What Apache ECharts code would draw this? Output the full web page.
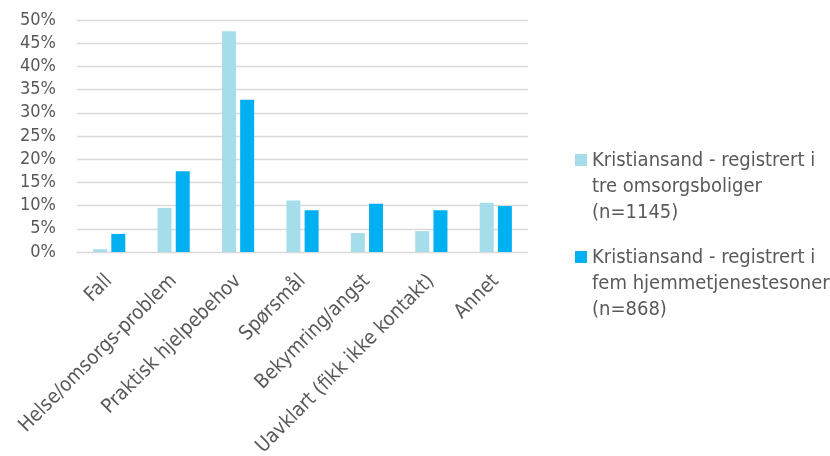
<!DOCTYPE html>
<html>
<head>
<meta charset="utf-8">
<script src="https://cdn.jsdelivr.net/npm/echarts@6/dist/echarts.min.js"></script>
<style>html,body{margin:0;padding:0;background:#fff}#c{width:830px;height:456px}</style>
</head>
<body>
<div id="c"></div>
<script>
var categories = ['Fall', 'Helse/omsorgs-problem', 'Praktisk hjelpebehov', 'Spørsmål', 'Bekymring/angst', 'Uavklart (fikk ikke kontakt)', 'Annet'];
var seriesNames = ['Kristiansand - registrert i tre omsorgsboliger (n=1145)', 'Kristiansand - registrert i fem hjemmetjenestesoner (n=868)'];
var legendLabels = ['Kristiansand - registrert i\ntre omsorgsboliger\n(n=1145)', 'Kristiansand - registrert i\nfem hjemmetjenestesoner\n(n=868)'];
var omsorgsboliger = [0.6, 9.5, 47.6, 11.1, 4.1, 4.5, 10.6];
var hjemmetjeneste = [3.9, 17.4, 32.8, 9.0, 10.4, 9.0, 9.9];

var font = '"DejaVu Sans Condensed", sans-serif';
var chart = echarts.init(document.getElementById('c'), null, {renderer: 'canvas'});
chart.setOption({
  animation: false,
  textStyle: {fontFamily: font},
  grid: {left: 77, right: 302, top: 20, bottom: 204, containLabel: false, outerBoundsMode: 'none'},
  legend: {
    orient: 'vertical',
    left: 570,
    top: 143,
    itemWidth: 12,
    itemHeight: 66,
    itemGap: 19,
    symbolKeepAspect: true,
    icon: 'path://M0 0 L12 0 L12 12 L0 12 Z M0 66 L0.001 66 Z',
    textStyle: {fontFamily: font, fontSize: 20, color: '#595959', lineHeight: 26},
    formatter: function (name) { return legendLabels[seriesNames.indexOf(name)]; },
    data: seriesNames
  },
  xAxis: {
    type: 'category',
    data: categories,
    axisLine: {lineStyle: {color: '#d9d9d9', width: 1}},
    axisTick: {show: false},
    axisLabel: {rotate: 45, fontFamily: font, fontSize: 20, color: '#595959', margin: 26, interval: 0}
  },
  yAxis: {
    type: 'value',
    min: 0,
    max: 50,
    interval: 5,
    axisLine: {show: false},
    axisTick: {show: false},
    splitLine: {lineStyle: {color: '#d9d9d9', width: 1.3}},
    axisLabel: {formatter: '{value}%', fontFamily: font, fontSize: 18, color: '#595959', margin: 21}
  },
  series: [
    {name: seriesNames[0], type: 'bar', data: omsorgsboliger, barWidth: 14, barGap: '30%', itemStyle: {color: '#A5DEEA'}},
    {name: seriesNames[1], type: 'bar', data: hjemmetjeneste, barWidth: 14, barGap: '30%', itemStyle: {color: '#00B0F0'}}
  ]
});
</script>
</body>
</html>
